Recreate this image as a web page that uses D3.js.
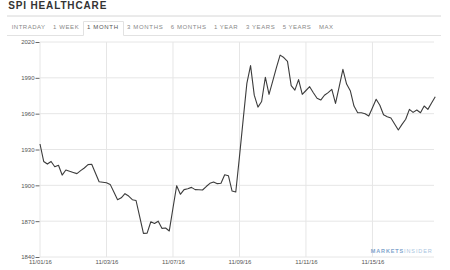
<!DOCTYPE html>
<meta charset="utf-8">
<style>
  body { margin: 0; background: #fff; }
  .title { font-family: "Liberation Sans", Arial, sans-serif; font-weight: bold; font-size: 10px; fill: #333; }
  .tab { font-family: "Liberation Sans", Arial, sans-serif; font-size: 6px; fill: #777; }
  .tick text { font-family: "Liberation Sans", Arial, sans-serif; font-size: 6px; fill: #555; }
</style>
<body>
<script src="https://cdn.jsdelivr.net/npm/d3@7"></script>
<script>
  // index values, 9 samples per trading day, 11/01/16 .. 11/16/16
  var prices = [
    1934.6, 1920.0, 1917.8, 1920.0, 1915.6, 1916.8, 1908.6, 1912.8, 1911.8,
    1910.8, 1909.8, 1912.3, 1914.5, 1917.3, 1917.6, 1910.4, 1903.0, 1902.6,
    1902.2, 1900.8, 1894.5, 1888.0, 1889.6, 1893.0, 1891.0, 1888.0, 1887.3,
    1873.5, 1859.8, 1860.0, 1869.5, 1868.0, 1870.0, 1864.0, 1864.3, 1861.8,
    1881.0, 1899.7, 1892.5, 1896.4, 1897.2, 1898.3, 1896.4, 1896.3, 1896.1,
    1899.0, 1901.7, 1902.8, 1901.4, 1901.7, 1908.9, 1908.1, 1895.2, 1894.4,
    1924.0, 1955.0, 1985.4, 2000.2, 1975.5, 1965.5, 1970.2, 1990.5, 1976.2,
    1987.3, 1998.6, 2009.0, 2007.0, 2003.8, 1983.5, 1979.7, 1988.5, 1976.2,
    1979.4, 1982.6, 1977.5, 1972.9, 1971.4, 1975.4, 1977.6, 1980.4, 1968.6,
    1982.6, 1997.1, 1984.8, 1979.2, 1966.4, 1960.8, 1960.8, 1960.0, 1958.0,
    1965.0, 1972.0, 1967.0, 1959.1, 1957.5, 1956.4, 1951.4, 1946.3, 1951.0,
    1955.3, 1963.6, 1961.1, 1963.1, 1960.8, 1966.4, 1963.6, 1969.0, 1974.2
  ];
  var dateTicks = [0, 18, 36, 54, 72, 90];
  var dateLabels = ["11/01/16", "11/03/16", "11/07/16", "11/09/16", "11/11/16", "11/15/16"];
  var yTicks = [1840, 1870, 1900, 1930, 1960, 1990, 2020];
  var tabs = ["INTRADAY", "1 WEEK", "1 MONTH", "3 MONTHS", "6 MONTHS", "1 YEAR", "3 YEARS", "5 YEARS", "MAX"];
  var tabX = [11.7, 53, 87, 127, 170.7, 214, 246, 282.7, 319];
  var tabW = [33.3, 25.7, 31, 35.7, 35.3, 23.7, 28.7, 28, 14];

  var W = 450, H = 270;
  var plotLeft = 40, plotRight = 434, plotTop = 42, plotBottom = 257;

  var svg = d3.select("body").append("svg")
    .attr("width", W)
    .attr("height", H);

  // header
  svg.append("text")
    .attr("class", "title")
    .attr("x", 8.3)
    .attr("y", 9.4)
    .attr("textLength", 98)
    .attr("lengthAdjust", "spacing")
    .text("SPI HEALTHCARE");

  svg.append("line")
    .attr("x1", 7).attr("x2", 441)
    .attr("y1", 16).attr("y2", 16)
    .attr("stroke", "#d6d6d6");

  // tab bar bottom line, broken under the active tab
  svg.append("path")
    .attr("d", "M7,35.5H83.5M123.5,35.5H441")
    .attr("stroke", "#e2e2e2")
    .attr("fill", "none");
  svg.append("path")
    .attr("d", "M83.5,35.5V21.5H123.5V35.5")
    .attr("stroke", "#e2e2e2")
    .attr("fill", "none");

  svg.selectAll("text.tab")
    .data(tabs)
    .enter().append("text")
    .attr("class", "tab")
    .attr("x", function (d, i) { return tabX[i]; })
    .attr("y", 29.4)
    .attr("textLength", function (d, i) { return tabW[i]; })
    .attr("lengthAdjust", "spacing")
    .style("fill", function (d) { return d == "1 MONTH" ? "#555" : "#888"; })
    .text(function (d) { return d; });

  // scales
  var x = d3.scaleLinear()
    .domain([0, prices.length - 1])
    .range([plotLeft, plotLeft + (prices.length - 1) * 3.694]);
  var y = d3.scaleLinear()
    .domain([1840, 2020])
    .range([plotBottom, plotTop]);

  // grid
  svg.append("g")
    .selectAll("line")
    .data(yTicks)
    .enter().append("line")
    .attr("x1", plotLeft).attr("x2", plotRight)
    .attr("y1", function (d) { return y(d); })
    .attr("y2", function (d) { return y(d); })
    .attr("stroke", "#e6e6e6");

  svg.append("g")
    .selectAll("line")
    .data(dateTicks)
    .enter().append("line")
    .attr("x1", function (d) { return x(d); })
    .attr("x2", function (d) { return x(d); })
    .attr("y1", plotTop).attr("y2", plotBottom)
    .attr("stroke", "#e6e6e6");

  // y axis
  var yAxis = svg.append("g")
    .attr("transform", "translate(" + (plotLeft - 0.5) + ",0)")
    .call(d3.axisLeft(y).tickValues(yTicks).tickSize(4).tickPadding(1).tickFormat(d3.format("d")));
  yAxis.select(".domain").remove();
  yAxis.selectAll(".tick line").attr("stroke", "#666");

  // x axis
  var xAxis = svg.append("g")
    .attr("transform", "translate(0," + plotBottom + ")")
    .call(d3.axisBottom(x).tickValues(dateTicks).tickSize(0).tickPadding(3)
      .tickFormat(function (d, i) { return dateLabels[i]; }));
  xAxis.select(".domain").remove();

  // price line
  var line = d3.line()
    .x(function (d, i) { return x(i); })
    .y(function (d) { return y(d); });

  svg.append("path")
    .datum(prices)
    .attr("d", line)
    .attr("fill", "none")
    .attr("stroke", "#3c3c3c")
    .attr("stroke-width", 1.1)
    .attr("stroke-linejoin", "round");

  // watermark
  var wm = svg.append("text")
    .attr("x", 370.7)
    .attr("y", 253.3)
    .attr("textLength", 61)
    .attr("lengthAdjust", "spacing")
    .style("font-family", "'Liberation Sans', Arial, sans-serif")
    .style("font-size", "5.5px");
  wm.append("tspan").style("fill", "#7fa4cc").style("font-weight", "bold").text("MARKETS");
  wm.append("tspan").style("fill", "#a9c4e0").text("INSIDER");
</script>
</body>
